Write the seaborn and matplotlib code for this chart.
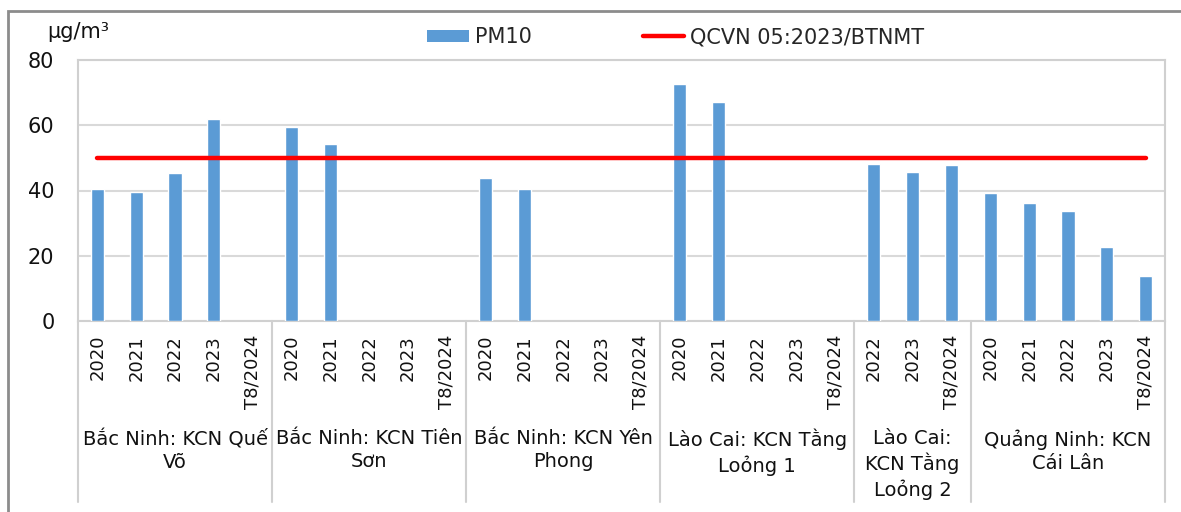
import numpy as np
import pandas as pd
import matplotlib
matplotlib.use("Agg")
import matplotlib.pyplot as plt
from matplotlib.patches import Patch, Rectangle
from matplotlib.lines import Line2D
import matplotlib.transforms as mtransforms
import seaborn as sns

# ---------------- data ----------------
groups = [
    "Bắc Ninh: KCN Quế\nVõ",
    "Bắc Ninh: KCN Tiên\nSơn",
    "Bắc Ninh: KCN Yên\nPhong",
    "Lào Cai: KCN Tằng\nLoỏng 1",
    "Lào Cai:\nKCN Tằng\nLoỏng 2",
    "Quảng Ninh: KCN\nCái Lân",
]
group_periods = [
    ["2020", "2021", "2022", "2023", "T8/2024"],
    ["2020", "2021", "2022", "2023", "T8/2024"],
    ["2020", "2021", "2022", "2023", "T8/2024"],
    ["2020", "2021", "2022", "2023", "T8/2024"],
    ["2022", "2023", "T8/2024"],
    ["2020", "2021", "2022", "2023", "T8/2024"],
]
pm10_que_vo = [40.4, 39.6, 45.4, 61.8, None]
pm10_tien_son = [59.6, 54.2, None, None, None]
pm10_yen_phong = [43.7, 40.4, None, None, None]
pm10_tang_loong1 = [72.6, 67.2, None, None, None]
pm10_tang_loong2 = [48.0, 45.7, 47.7]
pm10_cai_lan = [39.3, 36.3, 33.6, 22.8, 13.8]
pm10_values = [pm10_que_vo, pm10_tien_son, pm10_yen_phong,
               pm10_tang_loong1, pm10_tang_loong2, pm10_cai_lan]
qcvn_limit = 50  # QCVN 05:2023/BTNMT

rows = []
for g, periods, vals in zip(groups, group_periods, pm10_values):
    for p, v in zip(periods, vals):
        rows.append({"group": g, "period": p, "key": f"{g}|{p}",
                     "PM10": np.nan if v is None else v, "QCVN": qcvn_limit})
df = pd.DataFrame(rows)
df["pos"] = np.arange(len(df))

# ---------------- figure ----------------
sns.set_theme(style="white")
plt.rcParams["font.family"] = ["DejaVu Sans"]

W, H = 1181, 512
fig = plt.figure(figsize=(W / 100, H / 100), dpi=100)
L, R, T, B = 78, 1165, 60, 321
ax = fig.add_axes([L / W, 1 - B / H, (R - L) / W, (B - T) / H])

bar_color = "#5b9bd5"
sns.barplot(data=df, x="key", y="PM10", order=list(df["key"]), color=bar_color,
            width=0.34, ax=ax, saturation=1, errorbar=None, zorder=3)
sns.lineplot(data=df, x="pos", y="QCVN", color="#ff0000", linewidth=3.2,
             ax=ax, zorder=4, solid_capstyle="round")

ax.set_xlim(-0.5, len(df) - 0.5)
ax.set_ylim(0, 80)
ax.set_yticks([0, 20, 40, 60, 80])
ax.set_xticks(df["pos"])
ax.set_xticklabels(df["period"], rotation=90, fontsize=13, color="#111111")
ax.tick_params(axis="x", length=0, pad=10)
ax.tick_params(axis="y", length=0, pad=17, labelsize=15, labelcolor="#111111")
ax.set_xlabel("")
ax.set_ylabel("")
ax.grid(axis="y", color="#d9d9d9", linewidth=1.5, zorder=0)
ax.set_axisbelow(True)
for s in ax.spines.values():
    s.set_color("#d0d0d0")
    s.set_linewidth(1.5)

# group separators and labels
trans = mtransforms.blended_transform_factory(ax.transData, fig.transFigure)
sizes = [len(p) for p in group_periods]
bounds = np.concatenate([[0], np.cumsum(sizes)]) - 0.5
y_top_sep = 1 - B / H
y_bot_sep = 1 - 502 / H
for b in bounds:
    ax.add_line(Line2D([b, b], [y_top_sep, y_bot_sep], transform=trans,
                       color="#d0d0d0", linewidth=1.5, clip_on=False))
for g, lo, hi in zip(groups, bounds[:-1], bounds[1:]):
    ax.text((lo + hi) / 2, 1 - 429 / H, g, transform=trans, ha="center",
            va="top", fontsize=14, linespacing=1.28, color="#111111")

# unit label
fig.text(47 / W, 1 - 32 / H, "µg/m³", fontsize=15, ha="left", va="center",
         color="#111111")

# legend
handles = [Patch(facecolor=bar_color, edgecolor="none"),
           Line2D([0], [0], color="#ff0000", linewidth=3.2)]
fig.legend(handles, ["PM10", "QCVN 05:2023/BTNMT"], loc="center",
           bbox_to_anchor=(676 / W, 1 - 37 / H), ncol=2, frameon=False,
           fontsize=15, handlelength=2.0, handleheight=0.5,
           columnspacing=5.3, handletextpad=0.3)

# outer chart border (left and top visible)
fig.patches.append(Rectangle((8 / W, -0.1), 1.2, 1.1 - 11 / H,
                             transform=fig.transFigure, fill=False,
                             edgecolor="#8c8c8c", linewidth=2))

fig.savefig("out.png", dpi=100, facecolor="white")
